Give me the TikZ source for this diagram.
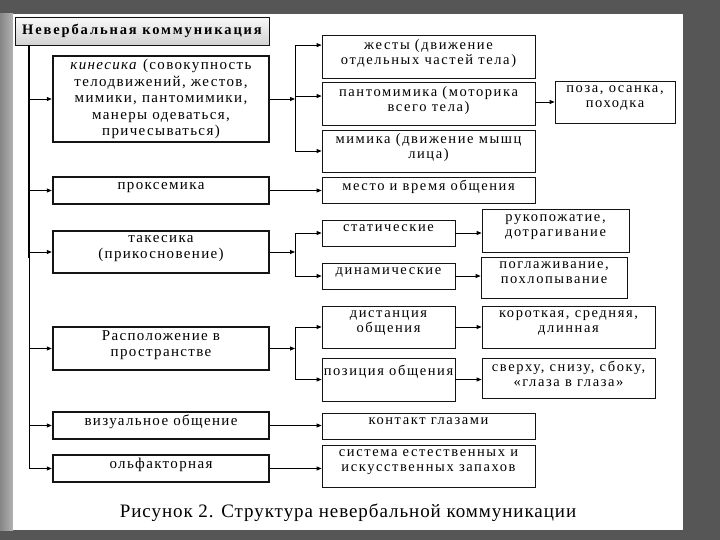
\documentclass[tikz,border=0pt]{standalone}
\usepackage{fontspec}
\setmainfont{Liberation Serif}
\newfontfamily\spacedone[LetterSpace=9]{Liberation Serif}
\newfontfamily\spacedtwo[LetterSpace=11]{Liberation Serif}
\newfontfamily\spacedtitle[LetterSpace=13]{Liberation Serif}
\newfontfamily\capfont[LetterSpace=5]{Liberation Serif}
\usepackage{xcolor}
\definecolor{bgdark}{HTML}{565656}
\definecolor{boxline}{HTML}{141414}
\usetikzlibrary{arrows.meta,positioning,calc}

\begin{document}
\begin{tikzpicture}[x=1pt,y=-1pt,
  titlebox/.style={rectangle, draw=boxline, line width=0.8pt, top color=gray!5, bottom color=gray!35,
    minimum width=254pt, minimum height=28pt, inner sep=2pt, font=\spacedtitle\bfseries\fontsize{14.5}{16}\selectfont},
  lvlone/.style={rectangle, draw=boxline, line width=2.4pt, fill=white, minimum width=216pt,
    align=center, inner sep=2pt, font=\spacedone\fontsize{15}{16.5}\selectfont},
  lvltwo/.style={rectangle, draw=boxline, line width=0.8pt, fill=white, align=center,
    inner sep=2pt, font=\spacedtwo\fontsize{14.5}{15}\selectfont},
  liftup/.style={text depth=10pt},
  arr/.style={-{Triangle[length=5pt,width=4pt]}, line width=0.8pt},
  link/.style={line width=0.8pt}]

  % page
  \useasboundingbox (0,0) rectangle (720,540);
  \fill[bgdark] (0,0) rectangle (720,540);
  \shade[left color=gray!95, right color=gray!60] (0,14) rectangle (13,530);
  \fill[white] (13,14) rectangle (683,530);

  \node[titlebox] (title) at (142,31) {Невербальная коммуникация};

  % first column
  \node[lvlone, minimum height=86pt] (kin) at (161,99) {\textit{кинесика} (совокупность\\телодвижений, жестов,\\мимики, пантомимики,\\манеры одеваться,\\причесываться)};
  \node[lvlone, liftup, minimum height=27pt] (prox) at (161,190.5) {проксемика};
  \node[lvlone, liftup, minimum height=42pt] (tak) at (161,252) {такесика\\(прикосновение)};
  \node[lvlone, liftup, minimum height=43pt] (rasp) at (161,348.5) {Расположение в\\пространстве};
  \node[lvlone, liftup, minimum height=27pt] (viz) at (161,425.5) {визуальное общение};
  \node[lvlone, liftup, minimum height=27pt] (olf) at (161,468.5) {ольфакторная};

  % second column
  \node[lvltwo, liftup, minimum width=213pt, minimum height=43pt] (zhest) at (428.5,56.5) {жесты (движение\\отдельных частей тела)};
  \node[lvltwo, liftup, minimum width=213pt, minimum height=43pt] (pant) at (428.5,103.5) {пантомимика (моторика\\всего тела)};
  \node[lvltwo, liftup, minimum width=213pt, minimum height=42pt] (mim) at (428.5,151) {мимика (движение мышц\\лица)};
  \node[lvltwo, liftup, minimum width=213pt, minimum height=26pt] (mesto) at (428.5,190) {место и время общения};
  \node[lvltwo, liftup, minimum width=133pt, minimum height=26pt] (stat) at (388.5,233) {статические};
  \node[lvltwo, liftup, minimum width=133pt, minimum height=26pt] (dyn) at (388.5,276) {динамические};
  \node[lvltwo, liftup, minimum width=133pt, minimum height=42pt] (dist) at (388.5,327) {дистанция\\общения};
  \node[lvltwo, minimum width=133pt, minimum height=43pt, inner sep=0pt] (pos) at (388.5,379.5) {позиция общения\\[3pt]~};
  \node[lvltwo, liftup, minimum width=213pt, minimum height=26pt] (kont) at (428.5,426) {контакт глазами};
  \node[lvltwo, liftup, minimum width=213pt, minimum height=42pt] (sist) at (428.5,466) {система естественных и\\искусственных запахов};

  % third column
  \node[lvltwo, liftup, minimum width=120pt, minimum height=42pt] (poza) at (615,102) {поза, осанка,\\походка};
  \node[lvltwo, liftup, minimum width=147pt, minimum height=43pt] (ruk) at (555.5,230.5) {рукопожатие,\\дотрагивание};
  \node[lvltwo, liftup, minimum width=146pt, minimum height=41pt] (pogl) at (554,277.5) {поглаживание,\\похлопывание};
  \node[lvltwo, liftup, minimum width=173pt, minimum height=42pt] (kor) at (568.5,327) {короткая, средняя,\\длинная};
  \node[lvltwo, liftup, minimum width=173pt, minimum height=39pt] (sver) at (568.5,378.5) {сверху, снизу, сбоку,\\«глаза в глаза»};

  % trunk
  \coordinate (trunktop) at (29,45);
  \coordinate (trunkmid) at (29,258);
  \coordinate (trunkbot) at (trunktop |- olf.west);
  \draw[line width=2pt] (trunktop) -- (trunkmid);
  \draw[link] (trunkmid) -- (trunkbot);
  \foreach \n in {kin,prox,tak,rasp,viz,olf}
    \draw[arr] (trunktop |- \n.west) -- (\n.west);

  % splits
  \coordinate (spx) at (295,0);
  \coordinate (ksp) at (kin.east -| spx);
  \coordinate (zin) at ($(zhest.north west)!0.24!(zhest.south west)$);
  \coordinate (pin) at ($(pant.north west)!0.33!(pant.south west)$);
  \draw[arr] (kin.east) -- (ksp);
  \draw[link] (ksp |- zin) -- (ksp |- mim.west);
  \draw[arr] (ksp |- zin) -- (zin);
  \draw[arr] (ksp |- pin) -- (pin);
  \draw[arr] (ksp |- mim.west) -- (mim.west);

  \coordinate (tsp) at (tak.east -| spx);
  \draw[arr] (tak.east) -- (tsp);
  \draw[link] (tsp |- stat.west) -- (tsp |- dyn.west);
  \draw[arr] (tsp |- stat.west) -- (stat.west);
  \draw[arr] (tsp |- dyn.west) -- (dyn.west);

  \coordinate (rsp) at (rasp.east -| spx);
  \draw[arr] (rasp.east) -- (rsp);
  \draw[link] (rsp |- dist.west) -- (rsp |- pos.west);
  \draw[arr] (rsp |- dist.west) -- (dist.west);
  \draw[arr] (rsp |- pos.west) -- (pos.west);

  % straight links
  \draw[arr] (prox.east) -- (prox.east -| mesto.west);
  \draw[arr] (viz.east) -- (viz.east -| kont.west);
  \draw[arr] (olf.east) -- (olf.east -| sist.west);
  \draw[arr] (pant.east |- poza.west) -- (poza.west);
  \draw[arr] (stat.east) -- (stat.east -| ruk.west);
  \draw[arr] (dyn.east) -- (dyn.east -| pogl.west);
  \draw[arr] (dist.east) -- (dist.east -| kor.west);
  \draw[arr] (pos.east) -- (pos.east -| sver.west);

  \node[font=\capfont\fontsize{19}{22}\selectfont] (caption) at (348,513) {Рисунок 2. Структура невербальной коммуникации};
\end{tikzpicture}
\end{document}
